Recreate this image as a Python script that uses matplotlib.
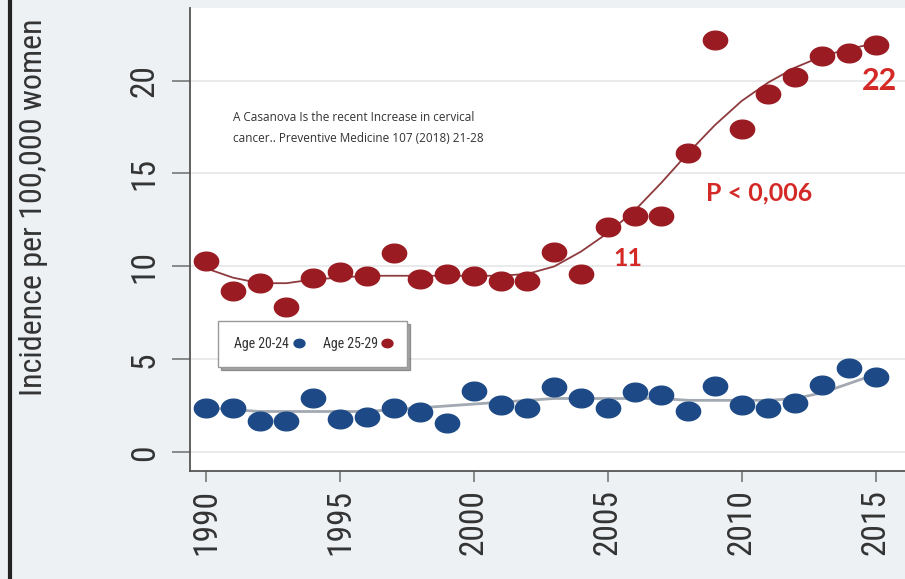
import matplotlib
matplotlib.use("Agg")
import logging
logging.getLogger("matplotlib.font_manager").setLevel(logging.ERROR)
import matplotlib.pyplot as plt
from matplotlib.path import Path
from matplotlib.lines import Line2D
import numpy as np

years = list(range(1990, 2016))
age_25_29 = [10.3, 8.7, 9.1, 7.8, 9.4, 9.7, 9.5, 10.7, 9.3, 9.6, 9.5, 9.2, 9.2,
             10.8, 9.6, 12.1, 12.7, 12.7, 16.1, 22.2, 17.4, 19.3, 20.2, 21.3, 21.5, 21.9]
age_20_24 = [2.4, 2.4, 1.7, 1.7, 2.9, 1.8, 1.9, 2.4, 2.15, 1.6, 3.3, 2.55, 2.4,
             3.5, 2.9, 2.4, 3.25, 3.1, 2.2, 3.55, 2.55, 2.4, 2.65, 3.65, 4.55, 4.05]
fit_25_29 = [9.9, 9.4, 9.1, 9.1, 9.3, 9.4, 9.5, 9.5, 9.5, 9.5, 9.5, 9.5, 9.6,
             10.0, 10.8, 11.8, 13.0, 14.5, 16.1, 17.6, 18.9, 19.9, 20.7, 21.3, 21.7, 22.0]
fit_20_24 = [2.4, 2.3, 2.2, 2.2, 2.2, 2.2, 2.2, 2.3, 2.4, 2.5, 2.6, 2.7, 2.8,
             2.9, 2.9, 2.9, 2.9, 2.9, 2.8, 2.8, 2.8, 2.8, 2.9, 3.2, 3.7, 4.2]
xticks = [1990, 1995, 2000, 2005, 2010, 2015]
yticks = [0, 5, 10, 15, 20]
series_labels = ["Age 20-24", "Age 25-29"]

RED = "#9a1b22"
BLUE = "#1d4a86"
TXT_RED = "#d42a27"
BG = "#edf1f4"
NARROW = ["Roboto Condensed", "Sofia Sans Condensed", "Liberation Sans Narrow", "DejaVu Sans"]
BOLDF = ["Lato", "DejaVu Sans"]

# ellipse marker (wider than tall)
t = np.linspace(0, 2 * np.pi, 40)
ell = Path(np.column_stack([1.3 * np.cos(t), np.sin(t)]), closed=True)

fig = plt.figure(figsize=(9.05, 5.79), dpi=100, facecolor=BG)
L, B, T = 190 / 905, 1 - 471 / 579, 1 - 8 / 579
ax = fig.add_axes([L, B, 1 - L, T - B])
ax.set_facecolor("white")

ax.plot(years, fit_20_24, color="#a3a9b2", lw=2.0, zorder=2)
ax.plot(years, fit_25_29, color="#8e3b3e", lw=1.3, zorder=2)
ax.plot(years, age_20_24, ls="none", marker=ell, ms=17.5, color=BLUE,
        label=series_labels[0], zorder=3)
ax.plot(years, age_25_29, ls="none", marker=ell, ms=17.5, color=RED,
        label=series_labels[1], zorder=3)

ax.set_xlim(1989.4, 2016.1)
ax.set_ylim(-1.0, 23.9)
ax.set_xticks(xticks)
ax.set_yticks(yticks)
ax.grid(axis="y", color="#e4e6e8", lw=1.2)
ax.set_axisbelow(True)
for s in ["top", "right"]:
    ax.spines[s].set_visible(False)
for s in ["left", "bottom"]:
    ax.spines[s].set_color("#555555")
    ax.spines[s].set_linewidth(1.3)
ax.tick_params(axis="both", width=1.2, color="#777777", labelcolor="#333333")
ax.tick_params(axis="y", length=13, pad=8)
ax.tick_params(axis="x", length=8, pad=5)
for lab in ax.get_xticklabels() + ax.get_yticklabels():
    lab.set_family(NARROW)
    lab.set_fontsize(24)
    lab.set_rotation(90)
for lab in ax.get_yticklabels():
    lab.set_va("center")

ax.set_ylabel("Incidence per 100,000 women", fontsize=23, family=NARROW,
              color="#333333")
ax.yaxis.set_label_coords((48 - 190) / 715, 0.57)

ax.text(1991.0, 18.35, "A Casanova Is the recent Increase in cervical\n"
        "cancer.. Preventive Medicine 107 (2018) 21-28",
        fontsize=8.5, family=["Open Sans", "DejaVu Sans"], color="#333333",
        va="top", ha="left", linespacing=1.75)

ax.text(2015.15, 20.0, "22", color=TXT_RED, fontsize=22, fontweight="bold",
        family=BOLDF, ha="center", va="center")
ax.text(2008.66, 13.98, "P < 0,006", color=TXT_RED, fontsize=18, fontweight="bold",
        family=BOLDF, ha="left", va="center")
ax.text(2005.2, 10.43, "11", color=TXT_RED, fontsize=18, fontweight="bold",
        family=BOLDF, ha="left", va="center")

leg = ax.legend(loc="lower left", bbox_to_anchor=(0.03, 0.21), ncol=2,
                markerfirst=False, frameon=True, shadow=True, fancybox=False,
                prop={"family": NARROW, "size": 10}, handlelength=0.6,
                handletextpad=0.4, columnspacing=1.4, markerscale=0.45,
                borderpad=1.15)
leg.get_frame().set_edgecolor("#999999")
leg.get_frame().set_linewidth(1.0)
for txt in leg.get_texts():
    txt.set_color("#333333")

fig.add_artist(Line2D([10 / 905, 10 / 905], [0, 1], color="#222222", lw=3))

fig.savefig("out.png", dpi=100, facecolor=BG)
